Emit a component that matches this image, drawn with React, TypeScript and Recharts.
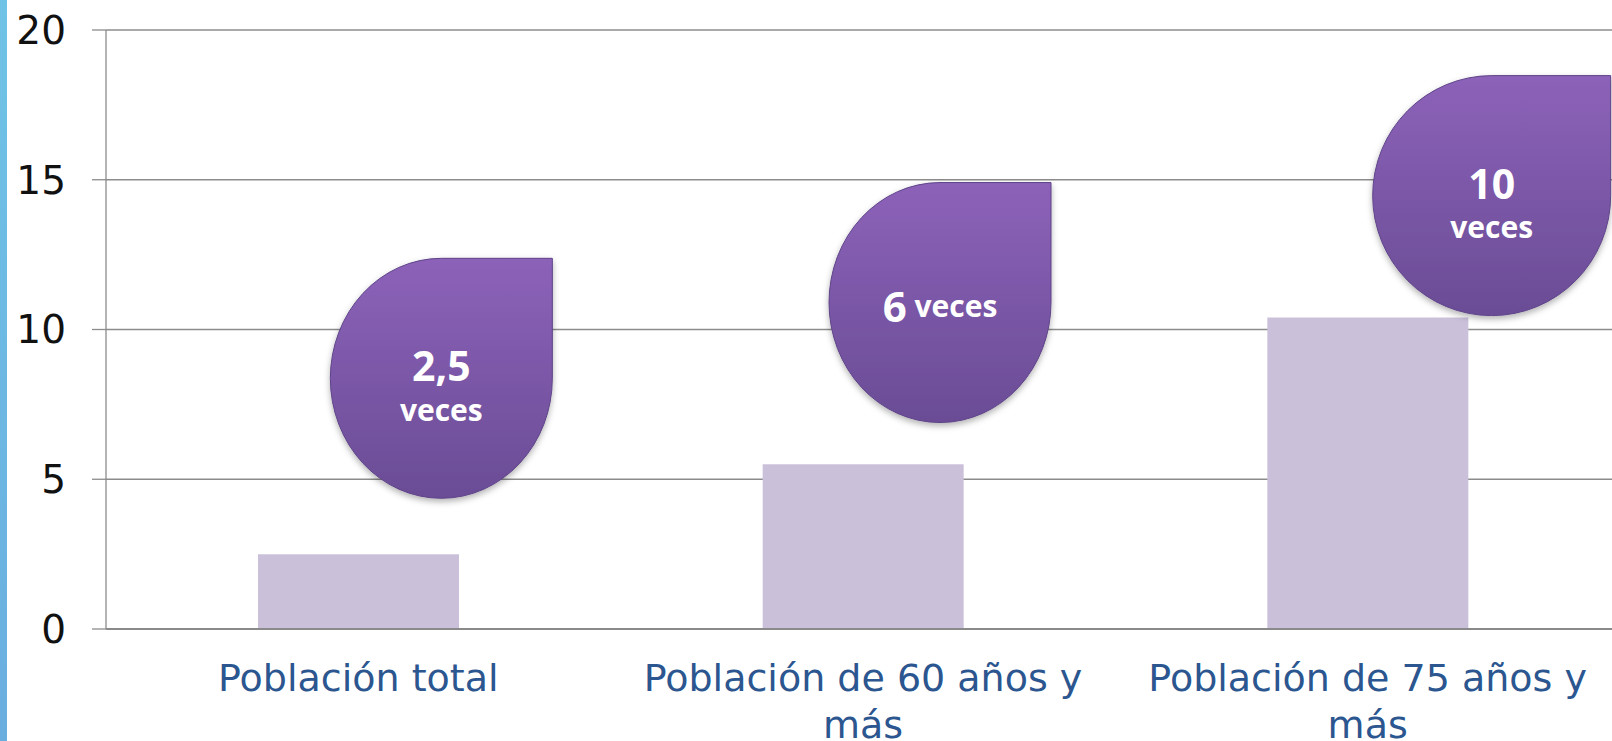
import React from 'react';
import { BarChart, Bar, XAxis, YAxis, CartesianGrid, ReferenceDot } from 'recharts';

const categories = ['Población total', 'Población de 60 años y más', 'Población de 75 años y más'];
const values = [2.5, 5.5, 10.4];
const yTicks = [0, 5, 10, 15, 20];
const bubbleNumbers = ['2,5', '6', '10'];
const bubbleUnit = 'veces';

const data = categories.map((name, i) => ({ name, value: values[i] }));

// where each teardrop sits: y in axis units, dx in px from the category centre
const BUBBLE_LAYOUT = [
  { y: 8.37, dx: 83, rx: 111, ry: 120, inline: false },
  { y: 10.9, dx: 77, rx: 111, ry: 120, inline: true },
  { y: 14.47, dx: 124, rx: 119, ry: 120, inline: false },
];

const FONT = '"DejaVu Sans", sans-serif';

// simple word wrap by character count
const wrap = (s: string, max: number) => {
  const lines: string[] = [];
  let cur = '';
  s.split(' ').forEach((w) => {
    const next = cur ? `${cur} ${w}` : w;
    if (next.length > max && cur) {
      lines.push(cur);
      cur = w;
    } else {
      cur = next;
    }
  });
  if (cur) lines.push(cur);
  return lines;
};

const CategoryTick = ({ x, y, payload }: any) => (
  <text x={x} y={y + 62} textAnchor="middle" fontSize={38} fontFamily={FONT} fill="#2b568f">
    {wrap(payload.value, 23).map((line, i) => (
      <tspan key={i} x={x} dy={i === 0 ? 0 : 47}>{line}</tspan>
    ))}
  </text>
);

const makeBubble = (i: number) => (props: any) => {
  const { cx, cy } = props;
  const l = BUBBLE_LAYOUT[i];
  const x = cx + l.dx;
  const y = cy;
  const { rx, ry } = l;
  const d = `M ${x} ${y - ry} L ${x + rx} ${y - ry} L ${x + rx} ${y} A ${rx} ${ry} 0 1 1 ${x} ${y - ry} Z`;
  const textProps = { fill: '#ffffff', fontFamily: '"Open Sans", sans-serif', fontWeight: 700, textAnchor: 'middle' as const, dominantBaseline: 'central' as const };
  return (
    <g>
      <path d={d} fill="url(#bubbleFill)" stroke="#5e4388" strokeWidth={1} filter="url(#bubbleShadow)" />
      {l.inline ? (
        <text x={x} y={y + 2} {...textProps}>
          <tspan fontSize={42}>{bubbleNumbers[i]}</tspan>
          <tspan fontSize={30}> {bubbleUnit}</tspan>
        </text>
      ) : (
        <>
          <text x={x} y={y - 13} fontSize={41} {...textProps}>{bubbleNumbers[i]}</text>
          <text x={x} y={y + 31} fontSize={30} {...textProps}>{bubbleUnit}</text>
        </>
      )}
    </g>
  );
};

export default function App() {
  return (
    <div style={{ position: 'fixed', left: 0, top: 0, width: 1612, height: 741, background: '#ffffff', overflow: 'hidden' }}>
      <div style={{ position: 'absolute', left: 0, top: 0, width: 7, height: 741, background: 'linear-gradient(#6fc3e6, #6aaee0)', zIndex: 2 }} />
      <BarChart width={1620} height={741} data={data} margin={{ top: 30, right: 0, bottom: 0, left: 0 }}>
        <defs>
          <linearGradient id="bubbleFill" x1="0" y1="0" x2="0" y2="1">
            <stop offset="0%" stopColor="#8c62b9" />
            <stop offset="100%" stopColor="#6a4c95" />
          </linearGradient>
          <filter id="bubbleShadow" x="-20%" y="-20%" width="140%" height="140%">
            <feDropShadow dx="0" dy="3" stdDeviation="3" floodColor="#000" floodOpacity="0.3" />
          </filter>
        </defs>
        <CartesianGrid vertical={false} stroke="#8c8c8c" strokeWidth={1.3} />
        <XAxis
          dataKey="name"
          height={112}
          tickSize={0}
          tickMargin={0}
          tickLine={false}
          axisLine={{ stroke: '#8a8a8a', strokeWidth: 2 }}
          tick={<CategoryTick />}
          interval={0}
        />
        <YAxis
          width={106}
          domain={[0, 20]}
          ticks={yTicks}
          tickSize={14}
          tickMargin={26}
          axisLine={{ stroke: '#8c8c8c', strokeWidth: 1.3 }}
          tickLine={{ stroke: '#8c8c8c', strokeWidth: 1.3 }}
          tick={{ fontSize: 39, fill: '#111111', fontFamily: FONT }}
        />
        <Bar dataKey="value" fill="#cbc0da" barSize={201} isAnimationActive={false} />
        {categories.map((c, i) => (
          <ReferenceDot key={c} x={c} y={BUBBLE_LAYOUT[i].y} r={0} ifOverflow="visible" shape={makeBubble(i)} />
        ))}
      </BarChart>
    </div>
  );
}
